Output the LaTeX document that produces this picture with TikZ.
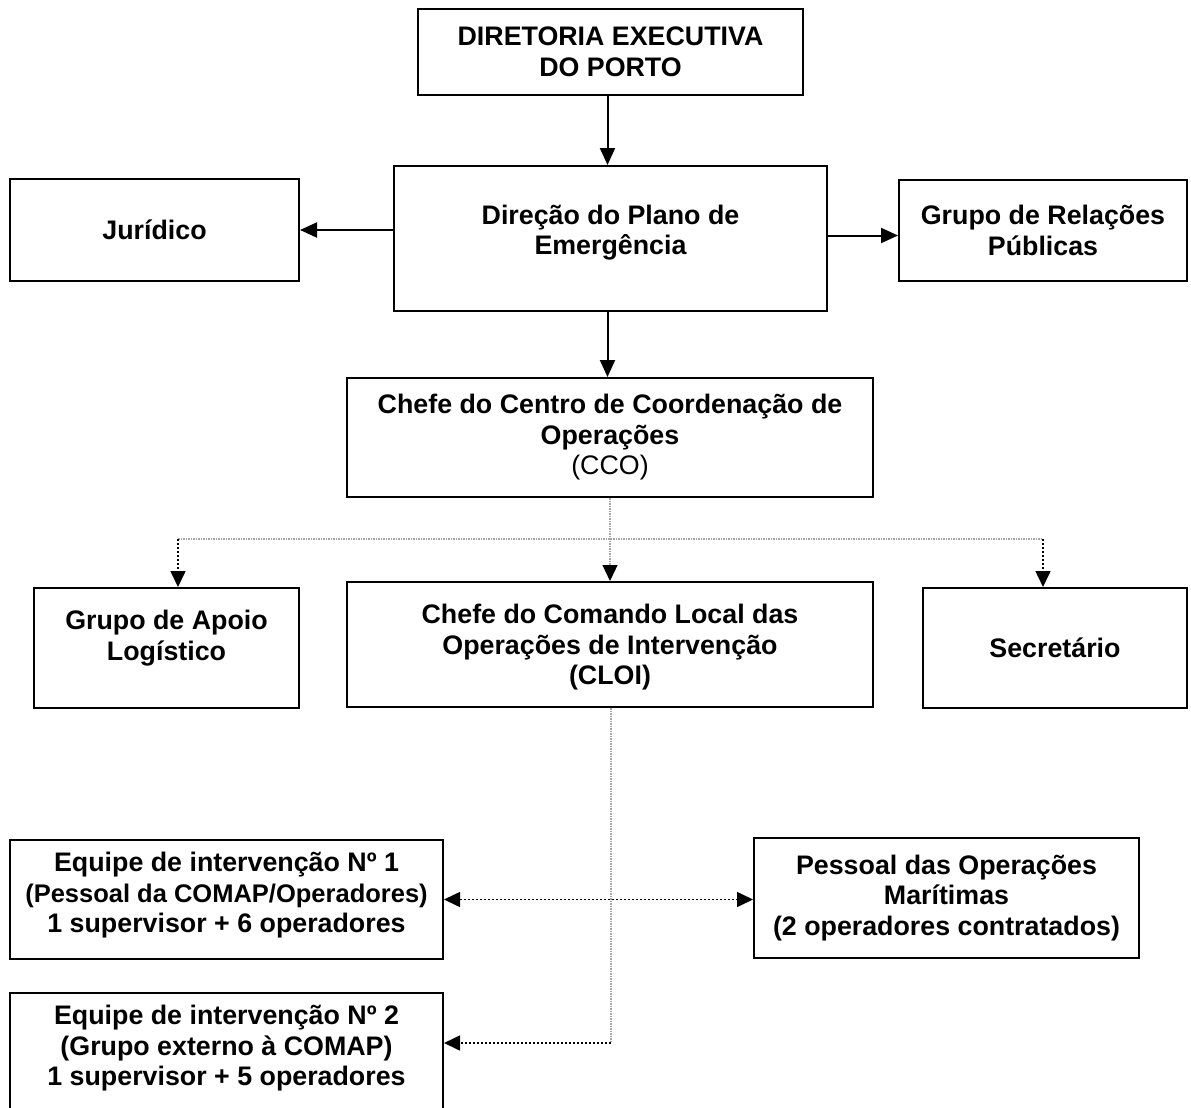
\documentclass[tikz,border=0pt]{standalone}
\usepackage{fontspec}
\setmainfont{Liberation Sans}
\usetikzlibrary{arrows.meta}
\begin{document}
\begin{tikzpicture}[x=1pt,y=-1pt,
  box/.style={draw=black, line width=2pt, rectangle, inner sep=0pt},
  txt/.style={align=center, font=\bfseries\fontsize{26.8}{30.5}\selectfont, inner sep=0pt},
  arr/.style={line width=2pt, -{Triangle[length=17pt,width=15pt]}},
  darr/.style={line width=1.6pt, dash pattern=on 2pt off 2pt, -{Triangle[length=16pt,width=15pt]}},
  gline/.style={line width=1.2pt, draw=gray!70, dash pattern=on 1.5pt off 1pt}]
\clip (0,0) rectangle (1191,1108);
\fill[white] (0,0) rectangle (1191,1108);
% boxes
\node[box, minimum width=385pt, minimum height=86pt] (dirx) at (610.5,52) {};
\node[box, minimum width=289pt, minimum height=102pt] (jur) at (154.5,230) {};
\node[box, minimum width=433pt, minimum height=145pt] (dir) at (610.5,238.5) {};
\node[box, minimum width=288pt, minimum height=101pt] (grp) at (1043,230.5) {};
\node[box, minimum width=526pt, minimum height=119pt] (cco) at (610,437.5) {};
\node[box, minimum width=265pt, minimum height=120pt] (log) at (166.5,648) {};
\node[box, minimum width=526pt, minimum height=125pt] (cloi) at (610,644.5) {};
\node[box, minimum width=264pt, minimum height=120pt] (sec) at (1055,648) {};
\node[box, minimum width=433pt, minimum height=119pt] (eq1) at (226.5,899.5) {};
\node[box, minimum width=385pt, minimum height=120pt] (pes) at (946.5,898) {};
\node[box, minimum width=433pt, minimum height=119pt] (eq2) at (226.5,1052.5) {};
% texts
\node[txt] (dirxt) at (dirx.center) {DIRETORIA EXECUTIVA\\DO PORTO};
\node[txt] (jurt) at (jur.center) {Jurídico};
\node[txt] (dirt) at ([yshift=6pt]dir.center) {Direção do Plano de\\Emergência};
\node[txt] (grpt) at (grp.center) {Grupo de Relações\\Públicas};
\node[txt] (ccot) at (cco.center) {Chefe do Centro de Coordenação de\\Operações\\{\mdseries (CCO)}};
\node[txt] (logt) at ([yshift=10pt]log.center) {Grupo de Apoio\\Logístico};
\node[txt] (cloit) at ([yshift=-3pt]cloi.center) {Chefe do Comando Local das\\Operações de Intervenção\\(CLOI)};
\node[txt] (sect) at (sec.center) {Secretário};
\node[txt] (eq1t) at ([yshift=4pt]eq1.center) {Equipe de intervenção Nº 1\\{\fontsize{25.5}{30.5}\selectfont (Pessoal da COMAP/Operadores)}\\1 supervisor + 6 operadores};
\node[txt] (pest) at (pes.center) {Pessoal das Operações\\Marítimas\\(2 operadores contratados)};
\node[txt] (eq2t) at ([yshift=4pt]eq2.center) {Equipe de intervenção Nº 2\\(Grupo externo à COMAP)\\1 supervisor + 5 operadores};
% solid connectors
\draw[arr] ([xshift=-3pt]dirx.south) -- ([xshift=-3pt]dir.north);
\draw[arr] (dir.west |- jur.east) -- (jur.east);
\draw[arr] ([yshift=-5pt]dir.east |- grp.west) -- ([yshift=-5pt]grp.west);
\draw[arr] ([xshift=-3pt]dir.south) -- ([xshift=-3pt]dir.south |- cco.north);
% dotted connectors
\coordinate (hubL) at (178,539);
\coordinate (hubR) at (1043,539);
\draw[gline] (hubL) -- (hubR);
\draw[gline, -{Triangle[length=16pt,width=15pt,black]}] (cco.south) -- (cloi.north);
\draw[darr] (hubL) -- (hubL |- log.north);
\draw[darr] (hubR) -- (hubR |- sec.north);
\coordinate (j2) at (611,1043);
\draw[gline] ([xshift=1pt]cloi.south) -- (j2);
\draw[darr] (j2) -- (j2 -| eq2.east);
\draw[darr, {Triangle[length=16pt,width=15pt]}-{Triangle[length=16pt,width=15pt]}] (eq1.east) -- (eq1.east -| pes.west);
\end{tikzpicture}
\end{document}
